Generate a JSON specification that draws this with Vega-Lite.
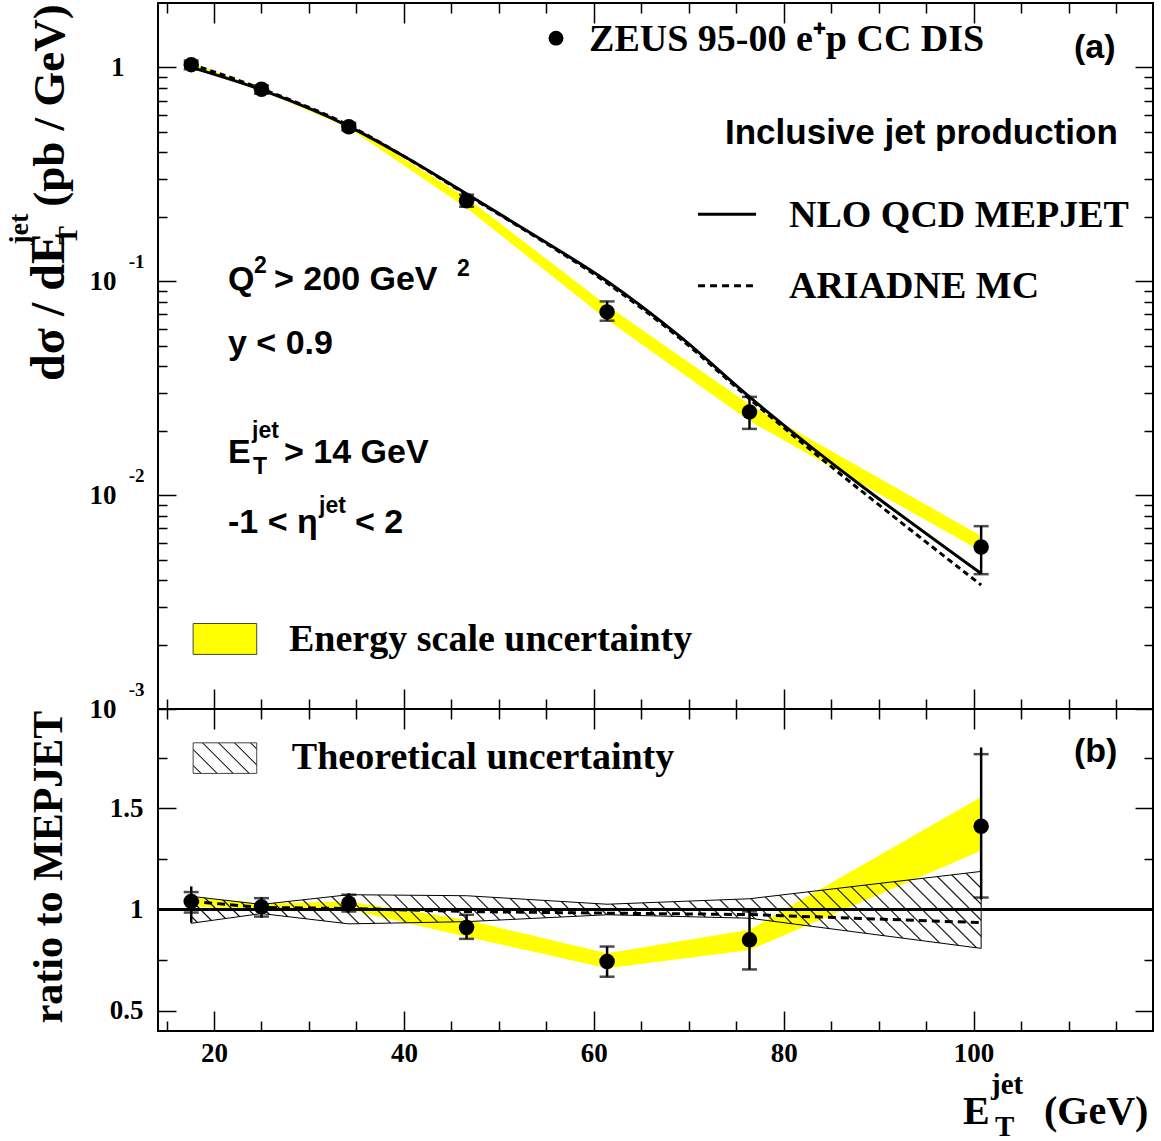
{
  "$schema": "https://vega.github.io/schema/vega-lite/v6.json",
  "padding": {"left": 5, "top": 1, "right": 0, "bottom": 0},
  "background": "white",
  "spacing": 0,
  "bounds": "flush",
  "config": {
    "view": {"stroke": "black", "strokeWidth": 2},
    "axis": {"domain": false, "grid": false, "tickColor": "black", "tickWidth": 1.5, "labelFont": "Liberation Serif", "labelFontWeight": "bold", "labelFontSize": 27, "labelColor": "black"}
  },
  "datasets": {
    "ptsT": [
      {"x": 17.6, "y": 1.03, "ylo": 0.98, "yhi": 1.075},
      {"x": 25.0, "y": 0.79, "ylo": 0.753, "yhi": 0.824},
      {"x": 34.2, "y": 0.528, "ylo": 0.507, "yhi": 0.55},
      {"x": 46.6, "y": 0.238, "ylo": 0.223, "yhi": 0.254},
      {"x": 61.4, "y": 0.0719, "ylo": 0.0654, "yhi": 0.0805},
      {"x": 76.4, "y": 0.0245, "ylo": 0.0204, "yhi": 0.0288},
      {"x": 100.8, "y": 0.00572, "ylo": 0.00427, "yhi": 0.00716}
    ],
    "ptsB": [
      {"x": 17.6, "r": 1.04, "lo": 0.985, "hi": 1.086, "tlo": 0.935, "thi": 1.114},
      {"x": 25.0, "r": 1.013, "lo": 0.965, "hi": 1.056, "tlo": 0.96, "thi": 1.06},
      {"x": 34.2, "r": 1.031, "lo": 0.99, "hi": 1.073, "tlo": 0.985, "thi": 1.08},
      {"x": 46.6, "r": 0.911, "lo": 0.855, "hi": 0.974, "tlo": 0.855, "thi": 0.974},
      {"x": 61.4, "r": 0.743, "lo": 0.668, "hi": 0.817, "tlo": 0.668, "thi": 0.817},
      {"x": 76.4, "r": 0.85, "lo": 0.704, "hi": 0.99, "tlo": 0.704, "thi": 0.995},
      {"x": 100.8, "r": 1.411, "lo": 1.059, "hi": 1.767, "tlo": 1.05, "thi": 1.8}
    ],
    "bandT": [
      {"x": 17.6, "lo": 1.0, "hi": 1.05},
      {"x": 25.0, "lo": 0.78, "hi": 0.8},
      {"x": 34.2, "lo": 0.52, "hi": 0.54},
      {"x": 46.6, "lo": 0.22, "hi": 0.246},
      {"x": 61.4, "lo": 0.066, "hi": 0.077},
      {"x": 76.4, "lo": 0.0222, "hi": 0.0265},
      {"x": 100.8, "lo": 0.00547, "hi": 0.00644}
    ],
    "bandB": [
      {"x": 17.6, "lo": 1.015, "hi": 1.06},
      {"x": 25.0, "lo": 1.0, "hi": 1.03},
      {"x": 34.2, "lo": 1.0, "hi": 1.04},
      {"x": 46.6, "lo": 0.866, "hi": 0.949},
      {"x": 61.4, "lo": 0.71, "hi": 0.784},
      {"x": 76.4, "lo": 0.8, "hi": 0.9},
      {"x": 100.8, "lo": 1.29, "hi": 1.556}
    ],
    "thB": [
      {"x": 17.6, "lo": 0.932, "hi": 1.065},
      {"x": 25.0, "lo": 0.98, "hi": 1.025},
      {"x": 34.2, "lo": 0.929, "hi": 1.073},
      {"x": 46.6, "lo": 0.94, "hi": 1.068},
      {"x": 61.4, "lo": 0.974, "hi": 1.026},
      {"x": 76.4, "lo": 0.957, "hi": 1.053},
      {"x": 100.8, "lo": 0.808, "hi": 1.188}
    ],
    "mepT": [
      {"x": 17.6, "m": 1.0, "a": 1.035},
      {"x": 25.0, "m": 0.785, "a": 0.794},
      {"x": 34.2, "m": 0.53, "a": 0.535},
      {"x": 40.0, "m": 0.384, "a": 0.384},
      {"x": 46.6, "m": 0.2564, "a": 0.254},
      {"x": 54.0, "m": 0.1614, "a": 0.16},
      {"x": 61.4, "m": 0.1, "a": 0.098},
      {"x": 69.0, "m": 0.0555, "a": 0.0544},
      {"x": 76.4, "m": 0.0288, "a": 0.0282},
      {"x": 100.8, "m": 0.0043, "a": 0.0038}
    ],
    "ariB": [
      {"x": 17.6, "a": 1.04},
      {"x": 25.0, "a": 1.01},
      {"x": 34.2, "a": 1.005},
      {"x": 46.6, "a": 0.99},
      {"x": 61.4, "a": 0.982},
      {"x": 76.4, "a": 0.975},
      {"x": 100.8, "a": 0.935}
    ],
    "unity": [{"r": 1}],
    "legPt": [{"x": 56.02, "y": 1.37}],
    "legSolid": [{"x": 70.98, "y": 0.206}, {"x": 77.09, "y": 0.206}],
    "legDash": [{"x": 70.98, "y": 0.0952}, {"x": 77.09, "y": 0.0952}],
    "legBoxT": [{"x": 17.8, "x2": 24.5, "y": 0.0018, "y2": 0.00251}],
    "legBoxB": [{"x": 17.8, "x2": 24.5, "y": 1.672, "y2": 1.823}],
    "txtHelvT": [
      {"t": "Q", "x": 21.47, "y": 0.0912},
      {"t": "> 200 GeV", "x": 26.32, "y": 0.0912},
      {"t": "y < 0.9", "x": 21.47, "y": 0.0457},
      {"t": "E", "x": 21.47, "y": 0.01413},
      {"t": "> 14 GeV", "x": 27.37, "y": 0.01413},
      {"t": "-1 < η", "x": 21.47, "y": 0.00665},
      {"t": "< 2", "x": 34.85, "y": 0.00665},
      {"t": "(a)", "x": 110.58, "y": 1.11}
    ],
    "txtIncl": [{"t": "Inclusive jet production", "x": 73.82, "y": 0.438}],
    "txtSupT": [
      {"t": "2", "x": 24.21, "y": 0.1094},
      {"t": "2", "x": 45.6, "y": 0.106},
      {"t": "jet", "x": 24.0, "y": 0.0185},
      {"t": "T", "x": 24.1, "y": 0.01256},
      {"t": "jet", "x": 31.06, "y": 0.00825}
    ],
    "txtTimesT": [
      {"t": "ZEUS 95-00 e⁺p CC DIS", "x": 59.5, "y": 1.197},
      {"t": "NLO QCD MEPJET", "x": 80.56, "y": 0.1784},
      {"t": "ARIADNE MC", "x": 80.56, "y": 0.0839},
      {"t": "Energy scale uncertainty", "x": 27.9, "y": 0.001864}
    ],
    "titT1": [{"t": "dσ / dE", "x": 4.2, "y": 0.0342}],
    "titT2": [{"t": "(pb / GeV)", "x": 4.2, "y": 0.2229}],
    "titTs": [
      {"t": "T", "x": 5.57, "y": 0.148},
      {"t": "jet", "x": 0.41, "y": 0.148}
    ],
    "txtTimesB": [{"t": "Theoretical uncertainty", "x": 28.2, "y": 1.6916}],
    "txtHelvB": [{"t": "(b)", "x": 110.58, "y": 1.728}],
    "titB": [{"t": "ratio to MEPJET", "x": 3.99, "y": 1.21}],
    "xtitB": [
      {"t": "E", "x": 98.89, "y": -0.0594},
      {"t": "(GeV)", "x": 107.42, "y": -0.0594}
    ],
    "xtitBs": [
      {"t": "jet", "x": 101.84, "y": 0.0891},
      {"t": "T", "x": 102.26, "y": -0.119}
    ]
  },
  "vconcat": [
    {
      "width": 995,
      "height": 706,
      "resolve": {"axis": {"x": "independent", "y": "independent"}},
      "layer": [
        {
          "data": {"name": "bandT"},
          "mark": {"type": "area", "color": "#ffff00", "opacity": 1},
          "encoding": {
            "x": {"field": "x", "type": "quantitative", "scale": {"domain": [14.1, 118.9], "nice": false, "zero": false}, "axis": {"orient": "top", "values": [20, 40, 60, 80, 100], "tickSize": -20, "labels": false, "title": null}},
            "y": {"field": "lo", "type": "quantitative", "scale": {"type": "log", "domain": [0.001, 2.0], "nice": false}, "axis": {"orient": "left", "values": [0.001, 0.01, 0.1, 1], "tickSize": -18, "labelExpr": "datum.value < 0.5 ? '10' : ''", "labelPadding": 60, "title": null}},
            "y2": {"field": "hi"}
          }
        },
        {
          "data": {"name": "mepT"},
          "mark": {"type": "line", "color": "black", "strokeWidth": 3, "interpolate": "monotone"},
          "encoding": {
            "x": {"field": "x", "type": "quantitative", "scale": {"domain": [14.1, 118.9], "nice": false, "zero": false}, "axis": {"orient": "top", "values": [15, 25, 30, 35, 45, 50, 55, 65, 70, 75, 85, 90, 95, 105, 110, 115], "tickSize": -10, "labels": false, "title": null}},
            "y": {"field": "m", "type": "quantitative", "scale": {"type": "log", "domain": [0.001, 2.0], "nice": false}, "axis": {"orient": "left", "values": [0.001, 0.01, 0.1], "ticks": false, "labelExpr": "datum.value < 0.005 ? '-3' : (datum.value < 0.05 ? '-2' : '-1')", "labelFontSize": 19, "labelOffset": -20, "labelPadding": 14, "title": null}}
          }
        },
        {
          "data": {"name": "mepT"},
          "mark": {"type": "line", "color": "black", "strokeWidth": 3, "strokeDash": [6, 4], "interpolate": "monotone"},
          "encoding": {
            "x": {"field": "x", "type": "quantitative", "scale": {"domain": [14.1, 118.9], "nice": false, "zero": false}, "axis": {"orient": "bottom", "values": [20, 40, 60, 80, 100], "tickSize": -20, "labels": false, "title": null}},
            "y": {"field": "a", "type": "quantitative", "scale": {"type": "log", "domain": [0.001, 2.0], "nice": false}, "axis": {"orient": "left", "values": [1], "ticks": false, "labelExpr": "'1'", "labelPadding": 34, "title": null}}
          }
        },
        {
          "data": {"name": "ptsT"},
          "mark": {"type": "rule", "color": "black", "strokeWidth": 2.5},
          "encoding": {
            "x": {"field": "x", "type": "quantitative", "scale": {"domain": [14.1, 118.9], "nice": false, "zero": false}, "axis": {"orient": "bottom", "values": [15, 25, 30, 35, 45, 50, 55, 65, 70, 75, 85, 90, 95, 105, 110, 115], "tickSize": -10, "labels": false, "title": null}},
            "y": {"field": "ylo", "type": "quantitative", "scale": {"type": "log", "domain": [0.001, 2.0], "nice": false}, "axis": {"orient": "left", "values": [0.002, 0.003, 0.004, 0.005, 0.006, 0.007, 0.008, 0.009, 0.02, 0.03, 0.04, 0.05, 0.06, 0.07, 0.08, 0.09, 0.2, 0.3, 0.4, 0.5, 0.6, 0.7, 0.8, 0.9], "tickSize": -9, "labels": false, "title": null}},
            "y2": {"field": "yhi"}
          }
        },
        {
          "data": {"name": "ptsT"},
          "mark": {"type": "tick", "orient": "horizontal", "color": "black", "size": 15, "thickness": 2.5},
          "encoding": {
            "x": {"field": "x", "type": "quantitative", "scale": {"domain": [14.1, 118.9], "nice": false, "zero": false}, "axis": null},
            "y": {"field": "ylo", "type": "quantitative", "scale": {"type": "log", "domain": [0.001, 2.0], "nice": false}, "axis": {"orient": "right", "values": [0.001, 0.01, 0.1, 1], "tickSize": -18, "labels": false, "title": null}}
          }
        },
        {
          "data": {"name": "ptsT"},
          "mark": {"type": "tick", "orient": "horizontal", "color": "black", "size": 15, "thickness": 2.5},
          "encoding": {
            "x": {"field": "x", "type": "quantitative", "scale": {"domain": [14.1, 118.9], "nice": false, "zero": false}, "axis": null},
            "y": {"field": "yhi", "type": "quantitative", "scale": {"type": "log", "domain": [0.001, 2.0], "nice": false}, "axis": {"orient": "right", "values": [0.002, 0.003, 0.004, 0.005, 0.006, 0.007, 0.008, 0.009, 0.02, 0.03, 0.04, 0.05, 0.06, 0.07, 0.08, 0.09, 0.2, 0.3, 0.4, 0.5, 0.6, 0.7, 0.8, 0.9], "tickSize": -9, "labels": false, "title": null}}
          }
        },
        {
          "data": {"name": "ptsT"},
          "mark": {"type": "point", "filled": true, "shape": "circle", "size": 240, "color": "black", "opacity": 1},
          "encoding": {
            "x": {"field": "x", "type": "quantitative", "scale": {"domain": [14.1, 118.9], "nice": false, "zero": false}, "axis": null},
            "y": {"field": "y", "type": "quantitative", "scale": {"type": "log", "domain": [0.001, 2.0], "nice": false}, "axis": null}
          }
        },
        {
          "data": {"name": "legPt"},
          "mark": {"type": "point", "filled": true, "shape": "circle", "size": 220, "color": "black", "opacity": 1},
          "encoding": {
            "x": {"field": "x", "type": "quantitative", "scale": {"domain": [14.1, 118.9], "nice": false, "zero": false}, "axis": null},
            "y": {"field": "y", "type": "quantitative", "scale": {"type": "log", "domain": [0.001, 2.0], "nice": false}, "axis": null}
          }
        },
        {
          "data": {"name": "legSolid"},
          "mark": {"type": "line", "color": "black", "strokeWidth": 3},
          "encoding": {
            "x": {"field": "x", "type": "quantitative", "scale": {"domain": [14.1, 118.9], "nice": false, "zero": false}, "axis": null},
            "y": {"field": "y", "type": "quantitative", "scale": {"type": "log", "domain": [0.001, 2.0], "nice": false}, "axis": null}
          }
        },
        {
          "data": {"name": "legDash"},
          "mark": {"type": "line", "color": "black", "strokeWidth": 3, "strokeDash": [7, 5]},
          "encoding": {
            "x": {"field": "x", "type": "quantitative", "scale": {"domain": [14.1, 118.9], "nice": false, "zero": false}, "axis": null},
            "y": {"field": "y", "type": "quantitative", "scale": {"type": "log", "domain": [0.001, 2.0], "nice": false}, "axis": null}
          }
        },
        {
          "data": {"name": "legBoxT"},
          "mark": {"type": "rect", "fill": "#ffff00", "stroke": "#444444", "strokeWidth": 1},
          "encoding": {
            "x": {"field": "x", "type": "quantitative", "scale": {"domain": [14.1, 118.9], "nice": false, "zero": false}, "axis": null},
            "x2": {"field": "x2"},
            "y": {"field": "y", "type": "quantitative", "scale": {"type": "log", "domain": [0.001, 2.0], "nice": false}, "axis": null},
            "y2": {"field": "y2"}
          }
        },
        {
          "data": {"name": "txtHelvT"},
          "mark": {"type": "text", "font": "Liberation Sans", "fontWeight": "bold", "fontSize": 34, "align": "left", "baseline": "alphabetic", "color": "black"},
          "encoding": {
            "x": {"field": "x", "type": "quantitative", "scale": {"domain": [14.1, 118.9], "nice": false, "zero": false}, "axis": null},
            "y": {"field": "y", "type": "quantitative", "scale": {"type": "log", "domain": [0.001, 2.0], "nice": false}, "axis": null},
            "text": {"field": "t"}
          }
        },
        {
          "data": {"name": "txtIncl"},
          "mark": {"type": "text", "font": "Liberation Sans", "fontWeight": "bold", "fontSize": 35, "align": "left", "baseline": "alphabetic", "color": "black"},
          "encoding": {
            "x": {"field": "x", "type": "quantitative", "scale": {"domain": [14.1, 118.9], "nice": false, "zero": false}, "axis": null},
            "y": {"field": "y", "type": "quantitative", "scale": {"type": "log", "domain": [0.001, 2.0], "nice": false}, "axis": null},
            "text": {"field": "t"}
          }
        },
        {
          "data": {"name": "txtSupT"},
          "mark": {"type": "text", "font": "Liberation Sans", "fontWeight": "bold", "fontSize": 23, "align": "left", "baseline": "alphabetic", "color": "black"},
          "encoding": {
            "x": {"field": "x", "type": "quantitative", "scale": {"domain": [14.1, 118.9], "nice": false, "zero": false}, "axis": null},
            "y": {"field": "y", "type": "quantitative", "scale": {"type": "log", "domain": [0.001, 2.0], "nice": false}, "axis": null},
            "text": {"field": "t"}
          }
        },
        {
          "data": {"name": "txtTimesT"},
          "mark": {"type": "text", "font": "Liberation Serif", "fontWeight": "bold", "fontSize": 38, "align": "left", "baseline": "alphabetic", "color": "black"},
          "encoding": {
            "x": {"field": "x", "type": "quantitative", "scale": {"domain": [14.1, 118.9], "nice": false, "zero": false}, "axis": null},
            "y": {"field": "y", "type": "quantitative", "scale": {"type": "log", "domain": [0.001, 2.0], "nice": false}, "axis": null},
            "text": {"field": "t"}
          }
        },
        {
          "data": {"name": "titT1"},
          "mark": {"type": "text", "font": "Liberation Serif", "fontWeight": "bold", "fontSize": 48, "align": "left", "baseline": "alphabetic", "angle": 270, "color": "black"},
          "encoding": {
            "x": {"field": "x", "type": "quantitative", "scale": {"domain": [14.1, 118.9], "nice": false, "zero": false}, "axis": null},
            "y": {"field": "y", "type": "quantitative", "scale": {"type": "log", "domain": [0.001, 2.0], "nice": false}, "axis": null},
            "text": {"field": "t"}
          }
        },
        {
          "data": {"name": "titT2"},
          "mark": {"type": "text", "font": "Liberation Serif", "fontWeight": "bold", "fontSize": 45, "align": "left", "baseline": "alphabetic", "angle": 270, "color": "black"},
          "encoding": {
            "x": {"field": "x", "type": "quantitative", "scale": {"domain": [14.1, 118.9], "nice": false, "zero": false}, "axis": null},
            "y": {"field": "y", "type": "quantitative", "scale": {"type": "log", "domain": [0.001, 2.0], "nice": false}, "axis": null},
            "text": {"field": "t"}
          }
        },
        {
          "data": {"name": "titTs"},
          "mark": {"type": "text", "font": "Liberation Serif", "fontWeight": "bold", "fontSize": 28, "align": "left", "baseline": "alphabetic", "angle": 270, "color": "black"},
          "encoding": {
            "x": {"field": "x", "type": "quantitative", "scale": {"domain": [14.1, 118.9], "nice": false, "zero": false}, "axis": null},
            "y": {"field": "y", "type": "quantitative", "scale": {"type": "log", "domain": [0.001, 2.0], "nice": false}, "axis": null},
            "text": {"field": "t"}
          }
        }
      ]
    },
    {
      "width": 995,
      "height": 322,
      "resolve": {"axis": {"x": "independent", "y": "independent"}},
      "layer": [
        {
          "data": {"name": "bandB"},
          "mark": {"type": "area", "color": "#ffff00", "opacity": 1},
          "encoding": {
            "x": {"field": "x", "type": "quantitative", "scale": {"domain": [14.1, 118.9], "nice": false, "zero": false}, "axis": {"orient": "top", "values": [20, 40, 60, 80, 100], "tickSize": -20, "labels": false, "title": null}},
            "y": {"field": "lo", "type": "quantitative", "scale": {"domain": [0.4, 1.99], "nice": false, "zero": false}, "axis": {"orient": "left", "values": [0.5, 1, 1.5], "tickSize": -18, "format": "~g", "labelPadding": 33, "title": null}},
            "y2": {"field": "hi"}
          }
        },
        {
          "data": {"name": "thB"},
          "mark": {"type": "area", "stroke": "black", "strokeWidth": 1, "fill": {"gradient": "linear", "x1": 0, "y1": 1, "x2": 1.0872, "y2": 0.894, "stops": [
            {"offset": 0, "color": "black"}, {"offset": 0.0018, "color": "rgba(0,0,0,0)"},
            {"offset": 0.0167, "color": "rgba(0,0,0,0)"}, {"offset": 0.0185, "color": "black"}, {"offset": 0.0203, "color": "rgba(0,0,0,0)"},
            {"offset": 0.0352, "color": "rgba(0,0,0,0)"}, {"offset": 0.037, "color": "black"}, {"offset": 0.0388, "color": "rgba(0,0,0,0)"},
            {"offset": 0.0537, "color": "rgba(0,0,0,0)"}, {"offset": 0.0555, "color": "black"}, {"offset": 0.0573, "color": "rgba(0,0,0,0)"},
            {"offset": 0.0722, "color": "rgba(0,0,0,0)"}, {"offset": 0.074, "color": "black"}, {"offset": 0.0758, "color": "rgba(0,0,0,0)"},
            {"offset": 0.0907, "color": "rgba(0,0,0,0)"}, {"offset": 0.0925, "color": "black"}, {"offset": 0.0943, "color": "rgba(0,0,0,0)"},
            {"offset": 0.1092, "color": "rgba(0,0,0,0)"}, {"offset": 0.111, "color": "black"}, {"offset": 0.1128, "color": "rgba(0,0,0,0)"},
            {"offset": 0.1277, "color": "rgba(0,0,0,0)"}, {"offset": 0.1295, "color": "black"}, {"offset": 0.1313, "color": "rgba(0,0,0,0)"},
            {"offset": 0.1462, "color": "rgba(0,0,0,0)"}, {"offset": 0.148, "color": "black"}, {"offset": 0.1498, "color": "rgba(0,0,0,0)"},
            {"offset": 0.1647, "color": "rgba(0,0,0,0)"}, {"offset": 0.1665, "color": "black"}, {"offset": 0.1683, "color": "rgba(0,0,0,0)"},
            {"offset": 0.1832, "color": "rgba(0,0,0,0)"}, {"offset": 0.185, "color": "black"}, {"offset": 0.1868, "color": "rgba(0,0,0,0)"},
            {"offset": 0.2017, "color": "rgba(0,0,0,0)"}, {"offset": 0.2035, "color": "black"}, {"offset": 0.2053, "color": "rgba(0,0,0,0)"},
            {"offset": 0.2202, "color": "rgba(0,0,0,0)"}, {"offset": 0.222, "color": "black"}, {"offset": 0.2238, "color": "rgba(0,0,0,0)"},
            {"offset": 0.2387, "color": "rgba(0,0,0,0)"}, {"offset": 0.2405, "color": "black"}, {"offset": 0.2423, "color": "rgba(0,0,0,0)"},
            {"offset": 0.2572, "color": "rgba(0,0,0,0)"}, {"offset": 0.259, "color": "black"}, {"offset": 0.2608, "color": "rgba(0,0,0,0)"},
            {"offset": 0.2757, "color": "rgba(0,0,0,0)"}, {"offset": 0.2775, "color": "black"}, {"offset": 0.2793, "color": "rgba(0,0,0,0)"},
            {"offset": 0.2942, "color": "rgba(0,0,0,0)"}, {"offset": 0.296, "color": "black"}, {"offset": 0.2978, "color": "rgba(0,0,0,0)"},
            {"offset": 0.3127, "color": "rgba(0,0,0,0)"}, {"offset": 0.3145, "color": "black"}, {"offset": 0.3163, "color": "rgba(0,0,0,0)"},
            {"offset": 0.3312, "color": "rgba(0,0,0,0)"}, {"offset": 0.333, "color": "black"}, {"offset": 0.3348, "color": "rgba(0,0,0,0)"},
            {"offset": 0.3497, "color": "rgba(0,0,0,0)"}, {"offset": 0.3515, "color": "black"}, {"offset": 0.3533, "color": "rgba(0,0,0,0)"},
            {"offset": 0.3682, "color": "rgba(0,0,0,0)"}, {"offset": 0.37, "color": "black"}, {"offset": 0.3718, "color": "rgba(0,0,0,0)"},
            {"offset": 0.3867, "color": "rgba(0,0,0,0)"}, {"offset": 0.3885, "color": "black"}, {"offset": 0.3903, "color": "rgba(0,0,0,0)"},
            {"offset": 0.4052, "color": "rgba(0,0,0,0)"}, {"offset": 0.407, "color": "black"}, {"offset": 0.4088, "color": "rgba(0,0,0,0)"},
            {"offset": 0.4237, "color": "rgba(0,0,0,0)"}, {"offset": 0.4255, "color": "black"}, {"offset": 0.4273, "color": "rgba(0,0,0,0)"},
            {"offset": 0.4422, "color": "rgba(0,0,0,0)"}, {"offset": 0.444, "color": "black"}, {"offset": 0.4458, "color": "rgba(0,0,0,0)"},
            {"offset": 0.4607, "color": "rgba(0,0,0,0)"}, {"offset": 0.4625, "color": "black"}, {"offset": 0.4643, "color": "rgba(0,0,0,0)"},
            {"offset": 0.4792, "color": "rgba(0,0,0,0)"}, {"offset": 0.481, "color": "black"}, {"offset": 0.4828, "color": "rgba(0,0,0,0)"},
            {"offset": 0.4977, "color": "rgba(0,0,0,0)"}, {"offset": 0.4995, "color": "black"}, {"offset": 0.5013, "color": "rgba(0,0,0,0)"},
            {"offset": 0.5162, "color": "rgba(0,0,0,0)"}, {"offset": 0.518, "color": "black"}, {"offset": 0.5198, "color": "rgba(0,0,0,0)"},
            {"offset": 0.5347, "color": "rgba(0,0,0,0)"}, {"offset": 0.5365, "color": "black"}, {"offset": 0.5383, "color": "rgba(0,0,0,0)"},
            {"offset": 0.5532, "color": "rgba(0,0,0,0)"}, {"offset": 0.555, "color": "black"}, {"offset": 0.5568, "color": "rgba(0,0,0,0)"},
            {"offset": 0.5717, "color": "rgba(0,0,0,0)"}, {"offset": 0.5735, "color": "black"}, {"offset": 0.5753, "color": "rgba(0,0,0,0)"},
            {"offset": 0.5902, "color": "rgba(0,0,0,0)"}, {"offset": 0.592, "color": "black"}, {"offset": 0.5938, "color": "rgba(0,0,0,0)"},
            {"offset": 0.6087, "color": "rgba(0,0,0,0)"}, {"offset": 0.6105, "color": "black"}, {"offset": 0.6123, "color": "rgba(0,0,0,0)"},
            {"offset": 0.6272, "color": "rgba(0,0,0,0)"}, {"offset": 0.629, "color": "black"}, {"offset": 0.6308, "color": "rgba(0,0,0,0)"},
            {"offset": 0.6457, "color": "rgba(0,0,0,0)"}, {"offset": 0.6475, "color": "black"}, {"offset": 0.6493, "color": "rgba(0,0,0,0)"},
            {"offset": 0.6642, "color": "rgba(0,0,0,0)"}, {"offset": 0.666, "color": "black"}, {"offset": 0.6678, "color": "rgba(0,0,0,0)"},
            {"offset": 0.6827, "color": "rgba(0,0,0,0)"}, {"offset": 0.6845, "color": "black"}, {"offset": 0.6863, "color": "rgba(0,0,0,0)"},
            {"offset": 0.7012, "color": "rgba(0,0,0,0)"}, {"offset": 0.703, "color": "black"}, {"offset": 0.7048, "color": "rgba(0,0,0,0)"},
            {"offset": 0.7197, "color": "rgba(0,0,0,0)"}, {"offset": 0.7215, "color": "black"}, {"offset": 0.7233, "color": "rgba(0,0,0,0)"},
            {"offset": 0.7382, "color": "rgba(0,0,0,0)"}, {"offset": 0.74, "color": "black"}, {"offset": 0.7418, "color": "rgba(0,0,0,0)"},
            {"offset": 0.7567, "color": "rgba(0,0,0,0)"}, {"offset": 0.7585, "color": "black"}, {"offset": 0.7603, "color": "rgba(0,0,0,0)"},
            {"offset": 0.7752, "color": "rgba(0,0,0,0)"}, {"offset": 0.777, "color": "black"}, {"offset": 0.7788, "color": "rgba(0,0,0,0)"},
            {"offset": 0.7937, "color": "rgba(0,0,0,0)"}, {"offset": 0.7955, "color": "black"}, {"offset": 0.7973, "color": "rgba(0,0,0,0)"},
            {"offset": 0.8122, "color": "rgba(0,0,0,0)"}, {"offset": 0.814, "color": "black"}, {"offset": 0.8158, "color": "rgba(0,0,0,0)"},
            {"offset": 0.8307, "color": "rgba(0,0,0,0)"}, {"offset": 0.8325, "color": "black"}, {"offset": 0.8343, "color": "rgba(0,0,0,0)"},
            {"offset": 0.8492, "color": "rgba(0,0,0,0)"}, {"offset": 0.851, "color": "black"}, {"offset": 0.8528, "color": "rgba(0,0,0,0)"},
            {"offset": 0.8677, "color": "rgba(0,0,0,0)"}, {"offset": 0.8695, "color": "black"}, {"offset": 0.8713, "color": "rgba(0,0,0,0)"},
            {"offset": 0.8862, "color": "rgba(0,0,0,0)"}, {"offset": 0.888, "color": "black"}, {"offset": 0.8898, "color": "rgba(0,0,0,0)"},
            {"offset": 0.9047, "color": "rgba(0,0,0,0)"}, {"offset": 0.9065, "color": "black"}, {"offset": 0.9083, "color": "rgba(0,0,0,0)"},
            {"offset": 0.9232, "color": "rgba(0,0,0,0)"}, {"offset": 0.925, "color": "black"}, {"offset": 0.9268, "color": "rgba(0,0,0,0)"},
            {"offset": 0.9417, "color": "rgba(0,0,0,0)"}, {"offset": 0.9435, "color": "black"}, {"offset": 0.9453, "color": "rgba(0,0,0,0)"},
            {"offset": 0.9602, "color": "rgba(0,0,0,0)"}, {"offset": 0.962, "color": "black"}, {"offset": 0.9638, "color": "rgba(0,0,0,0)"},
            {"offset": 0.9787, "color": "rgba(0,0,0,0)"}, {"offset": 0.9805, "color": "black"}, {"offset": 0.9823, "color": "rgba(0,0,0,0)"},
            {"offset": 1, "color": "rgba(0,0,0,0)"}
          ]}},
          "encoding": {
            "x": {"field": "x", "type": "quantitative", "scale": {"domain": [14.1, 118.9], "nice": false, "zero": false}, "axis": {"orient": "top", "values": [15, 25, 30, 35, 45, 50, 55, 65, 70, 75, 85, 90, 95, 105, 110, 115], "tickSize": -10, "labels": false, "title": null}},
            "y": {"field": "lo", "type": "quantitative", "scale": {"domain": [0.4, 1.99], "nice": false, "zero": false}, "axis": {"orient": "left", "values": [0.75, 1.25, 1.75], "tickSize": -9, "labels": false, "title": null}},
            "y2": {"field": "hi"}
          }
        },
        {
          "data": {"name": "unity"},
          "mark": {"type": "rule", "color": "black", "strokeWidth": 3},
          "encoding": {
            "y": {"field": "r", "type": "quantitative", "scale": {"domain": [0.4, 1.99], "nice": false, "zero": false}, "axis": null}
          }
        },
        {
          "data": {"name": "ariB"},
          "mark": {"type": "line", "color": "black", "strokeWidth": 3, "strokeDash": [8, 5]},
          "encoding": {
            "x": {"field": "x", "type": "quantitative", "scale": {"domain": [14.1, 118.9], "nice": false, "zero": false}, "axis": {"orient": "bottom", "values": [20, 40, 60, 80, 100], "tickSize": -20, "labelPadding": 29, "format": "d", "title": null}},
            "y": {"field": "a", "type": "quantitative", "scale": {"domain": [0.4, 1.99], "nice": false, "zero": false}, "axis": {"orient": "right", "values": [0.5, 1, 1.5], "tickSize": -18, "labels": false, "title": null}}
          }
        },
        {
          "data": {"name": "ptsB"},
          "mark": {"type": "rule", "color": "black", "strokeWidth": 2.5},
          "encoding": {
            "x": {"field": "x", "type": "quantitative", "scale": {"domain": [14.1, 118.9], "nice": false, "zero": false}, "axis": {"orient": "bottom", "values": [15, 25, 30, 35, 45, 50, 55, 65, 70, 75, 85, 90, 95, 105, 110, 115], "tickSize": -10, "labels": false, "title": null}},
            "y": {"field": "tlo", "type": "quantitative", "scale": {"domain": [0.4, 1.99], "nice": false, "zero": false}, "axis": {"orient": "right", "values": [0.75, 1.25, 1.75], "tickSize": -9, "labels": false, "title": null}},
            "y2": {"field": "thi"}
          }
        },
        {
          "data": {"name": "ptsB"},
          "mark": {"type": "tick", "orient": "horizontal", "color": "black", "size": 15, "thickness": 2.5},
          "encoding": {
            "x": {"field": "x", "type": "quantitative", "scale": {"domain": [14.1, 118.9], "nice": false, "zero": false}, "axis": null},
            "y": {"field": "lo", "type": "quantitative", "scale": {"domain": [0.4, 1.99], "nice": false, "zero": false}, "axis": null}
          }
        },
        {
          "data": {"name": "ptsB"},
          "mark": {"type": "tick", "orient": "horizontal", "color": "black", "size": 15, "thickness": 2.5},
          "encoding": {
            "x": {"field": "x", "type": "quantitative", "scale": {"domain": [14.1, 118.9], "nice": false, "zero": false}, "axis": null},
            "y": {"field": "hi", "type": "quantitative", "scale": {"domain": [0.4, 1.99], "nice": false, "zero": false}, "axis": null}
          }
        },
        {
          "data": {"name": "ptsB"},
          "mark": {"type": "point", "filled": true, "shape": "circle", "size": 240, "color": "black", "opacity": 1},
          "encoding": {
            "x": {"field": "x", "type": "quantitative", "scale": {"domain": [14.1, 118.9], "nice": false, "zero": false}, "axis": null},
            "y": {"field": "r", "type": "quantitative", "scale": {"domain": [0.4, 1.99], "nice": false, "zero": false}, "axis": null}
          }
        },
        {
          "data": {"name": "legBoxB"},
          "mark": {"type": "rect", "stroke": "#444444", "strokeWidth": 1, "fill": {"gradient": "linear", "x1": 0, "y1": 1, "x2": 1.2027, "y2": 0.4215, "stops": [
            {"offset": 0, "color": "rgba(0,0,0,0)"}, {"offset": 0.071, "color": "rgba(0,0,0,0)"}, {"offset": 0.085, "color": "black"}, {"offset": 0.099, "color": "rgba(0,0,0,0)"},
            {"offset": 0.241, "color": "rgba(0,0,0,0)"}, {"offset": 0.255, "color": "black"}, {"offset": 0.269, "color": "rgba(0,0,0,0)"},
            {"offset": 0.411, "color": "rgba(0,0,0,0)"}, {"offset": 0.425, "color": "black"}, {"offset": 0.439, "color": "rgba(0,0,0,0)"},
            {"offset": 0.581, "color": "rgba(0,0,0,0)"}, {"offset": 0.595, "color": "black"}, {"offset": 0.609, "color": "rgba(0,0,0,0)"},
            {"offset": 0.751, "color": "rgba(0,0,0,0)"}, {"offset": 0.765, "color": "black"}, {"offset": 0.779, "color": "rgba(0,0,0,0)"},
            {"offset": 0.921, "color": "rgba(0,0,0,0)"}, {"offset": 0.935, "color": "black"}, {"offset": 0.949, "color": "rgba(0,0,0,0)"},
            {"offset": 1, "color": "rgba(0,0,0,0)"}
          ]}},
          "encoding": {
            "x": {"field": "x", "type": "quantitative", "scale": {"domain": [14.1, 118.9], "nice": false, "zero": false}, "axis": null},
            "x2": {"field": "x2"},
            "y": {"field": "y", "type": "quantitative", "scale": {"domain": [0.4, 1.99], "nice": false, "zero": false}, "axis": null},
            "y2": {"field": "y2"}
          }
        },
        {
          "data": {"name": "txtTimesB"},
          "mark": {"type": "text", "font": "Liberation Serif", "fontWeight": "bold", "fontSize": 38, "align": "left", "baseline": "alphabetic", "color": "black"},
          "encoding": {
            "x": {"field": "x", "type": "quantitative", "scale": {"domain": [14.1, 118.9], "nice": false, "zero": false}, "axis": null},
            "y": {"field": "y", "type": "quantitative", "scale": {"domain": [0.4, 1.99], "nice": false, "zero": false}, "axis": null},
            "text": {"field": "t"}
          }
        },
        {
          "data": {"name": "txtHelvB"},
          "mark": {"type": "text", "font": "Liberation Sans", "fontWeight": "bold", "fontSize": 34, "align": "left", "baseline": "alphabetic", "color": "black"},
          "encoding": {
            "x": {"field": "x", "type": "quantitative", "scale": {"domain": [14.1, 118.9], "nice": false, "zero": false}, "axis": null},
            "y": {"field": "y", "type": "quantitative", "scale": {"domain": [0.4, 1.99], "nice": false, "zero": false}, "axis": null},
            "text": {"field": "t"}
          }
        },
        {
          "data": {"name": "titB"},
          "mark": {"type": "text", "font": "Liberation Serif", "fontWeight": "bold", "fontSize": 42, "align": "center", "baseline": "alphabetic", "angle": 270, "color": "black"},
          "encoding": {
            "x": {"field": "x", "type": "quantitative", "scale": {"domain": [14.1, 118.9], "nice": false, "zero": false}, "axis": null},
            "y": {"field": "y", "type": "quantitative", "scale": {"domain": [0.4, 1.99], "nice": false, "zero": false}, "axis": null},
            "text": {"field": "t"}
          }
        },
        {
          "data": {"name": "xtitB"},
          "mark": {"type": "text", "font": "Liberation Serif", "fontWeight": "bold", "fontSize": 40, "align": "left", "baseline": "alphabetic", "color": "black"},
          "encoding": {
            "x": {"field": "x", "type": "quantitative", "scale": {"domain": [14.1, 118.9], "nice": false, "zero": false}, "axis": null},
            "y": {"field": "y", "type": "quantitative", "scale": {"domain": [0.4, 1.99], "nice": false, "zero": false}, "axis": null},
            "text": {"field": "t"}
          }
        },
        {
          "data": {"name": "xtitBs"},
          "mark": {"type": "text", "font": "Liberation Serif", "fontWeight": "bold", "fontSize": 29, "align": "left", "baseline": "alphabetic", "color": "black"},
          "encoding": {
            "x": {"field": "x", "type": "quantitative", "scale": {"domain": [14.1, 118.9], "nice": false, "zero": false}, "axis": null},
            "y": {"field": "y", "type": "quantitative", "scale": {"domain": [0.4, 1.99], "nice": false, "zero": false}, "axis": null},
            "text": {"field": "t"}
          }
        }
      ]
    }
  ]
}
